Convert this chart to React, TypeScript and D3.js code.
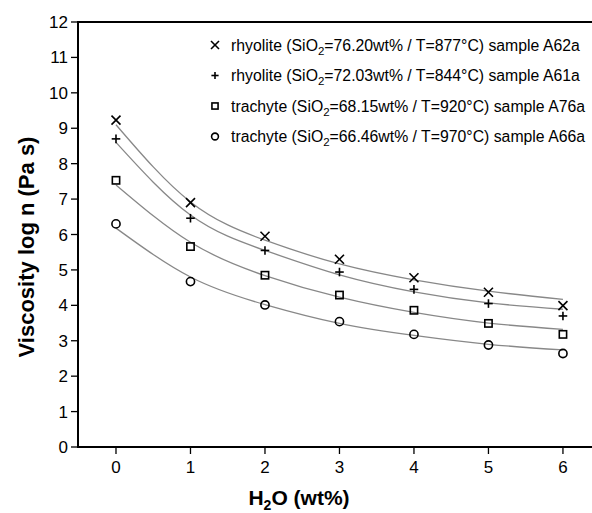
import React from "react";
import * as d3 from "d3";

// H2O content (wt%)
const water = [0, 1, 2, 3, 4, 5, 6];

// measured viscosities (log Pa s)
const a62a = [9.23, 6.9, 5.95, 5.3, 4.78, 4.37, 3.99];
const a61a = [8.7, 6.46, 5.55, 4.94, 4.45, 4.05, 3.7];
const a76a = [7.53, 5.66, 4.85, 4.29, 3.86, 3.49, 3.18];
const a66a = [6.3, 4.67, 4.01, 3.54, 3.18, 2.88, 2.64];

// fitted curves, read at the same H2O steps
const fitA62a = [9.1, 6.92, 5.84, 5.17, 4.72, 4.4, 4.17];
const fitA61a = [8.6, 6.55, 5.55, 4.86, 4.38, 4.07, 3.89];
const fitA76a = [7.4, 5.78, 4.84, 4.23, 3.8, 3.5, 3.32];
const fitA66a = [6.18, 4.8, 4.02, 3.49, 3.15, 2.9, 2.74];

const xTicks = [0, 1, 2, 3, 4, 5, 6];
const yTicks = [0, 1, 2, 3, 4, 5, 6, 7, 8, 9, 10, 11, 12];

const series = [
  { rock: "rhyolite", sio2: "76.20", t: "877", sample: "A62a", marker: "x", pts: a62a, fit: fitA62a },
  { rock: "rhyolite", sio2: "72.03", t: "844", sample: "A61a", marker: "plus", pts: a61a, fit: fitA61a },
  { rock: "trachyte", sio2: "68.15", t: "920", sample: "A76a", marker: "square", pts: a76a, fit: fitA76a },
  { rock: "trachyte", sio2: "66.46", t: "970", sample: "A66a", marker: "circle", pts: a66a, fit: fitA66a },
];

const W = 592;
const H = 513;
const font = "'Liberation Sans', Arial, sans-serif";

function Marker({ type, x, y, s }: { type: string; x: number; y: number; s: number }) {
  const st = { stroke: "#000", strokeWidth: 1.6, fill: "none" };
  if (type === "x") {
    return (
      <g {...st}>
        <line x1={x - s} y1={y - s} x2={x + s} y2={y + s} />
        <line x1={x - s} y1={y + s} x2={x + s} y2={y - s} />
      </g>
    );
  }
  if (type === "plus") {
    return (
      <g {...st}>
        <line x1={x - s} y1={y} x2={x + s} y2={y} />
        <line x1={x} y1={y - s} x2={x} y2={y + s} />
      </g>
    );
  }
  if (type === "square") {
    return <rect x={x - s * 0.85} y={y - s * 0.85} width={s * 1.7} height={s * 1.7} {...st} />;
  }
  return <circle cx={x} cy={y} r={s * 0.95} {...st} />;
}

export default function App() {
  const x = d3.scaleLinear().domain([-0.51, 6.39]).range([78, 592]);
  const y = d3.scaleLinear().domain([0, 12]).range([447, 22]);

  const line = d3
    .line<number>()
    .x((d, i) => x(water[i]))
    .y((d) => y(d))
    .curve(d3.curveNatural);

  return (
    <svg
      width={W}
      height={H}
      style={{ position: "absolute", left: 0, top: 0, background: "#fff" }}
      fontFamily={font}
    >
      {/* fitted curves */}
      {series.map((s) => (
        <path key={"f" + s.sample} d={line(s.fit) || ""} fill="none" stroke="#888" strokeWidth={1.3} />
      ))}

      {/* data points */}
      {series.map((s) =>
        s.pts.map((v, i) => (
          <Marker key={s.sample + i} type={s.marker} x={x(water[i])} y={y(v)} s={s.marker === "x" ? 4.5 : 4.3} />
        ))
      )}

      {/* frame */}
      <line x1={78} y1={y(12)} x2={W} y2={y(12)} stroke="#000" strokeWidth={2} />
      <line x1={78} y1={y(0)} x2={W} y2={y(0)} stroke="#000" strokeWidth={2} />
      <line x1={78} y1={y(12) - 1} x2={78} y2={y(0) + 1} stroke="#000" strokeWidth={2} />

      {/* y ticks */}
      {yTicks.map((t) => (
        <g key={"y" + t}>
          <line x1={71} x2={78} y1={y(t)} y2={y(t)} stroke="#000" strokeWidth={1.3} />
          <text x={68} y={y(t) + 6} textAnchor="end" fontSize={17} fill="#000">
            {t}
          </text>
        </g>
      ))}

      {/* x ticks */}
      {xTicks.map((t) => (
        <g key={"x" + t}>
          <line x1={x(t)} x2={x(t)} y1={y(0)} y2={y(0) + 7} stroke="#000" strokeWidth={1.3} />
          <text x={x(t)} y={473} textAnchor="middle" fontSize={17} fill="#000">
            {t}
          </text>
        </g>
      ))}

      {/* axis titles */}
      <text
        transform="translate(34,247) rotate(-90)"
        textAnchor="middle"
        fontSize={22}
        fontWeight="bold"
        fill="#000"
      >
        Viscosity log n (Pa s)
      </text>
      <text x={299} y={505} textAnchor="middle" fontSize={21} fontWeight="bold" fill="#000">
        H<tspan fontSize={14} dy={5}>2</tspan>
        <tspan dy={-5}>O (wt%)</tspan>
      </text>

      {/* legend */}
      {series.map((s, i) => {
        const ly = 45 + i * 30.5;
        return (
          <g key={"l" + s.sample}>
            <Marker type={s.marker} x={215} y={ly} s={s.marker === "x" ? 4 : 3.6} />
            <text x={231} y={ly + 5.5} fontSize={15.8} fill="#000">
              {s.rock} (SiO<tspan fontSize={11.5} dy={4}>2</tspan>
              <tspan dy={-4}>
                ={s.sio2}wt% / T={s.t}°C) sample {s.sample}
              </tspan>
            </text>
          </g>
        );
      })}
    </svg>
  );
}
